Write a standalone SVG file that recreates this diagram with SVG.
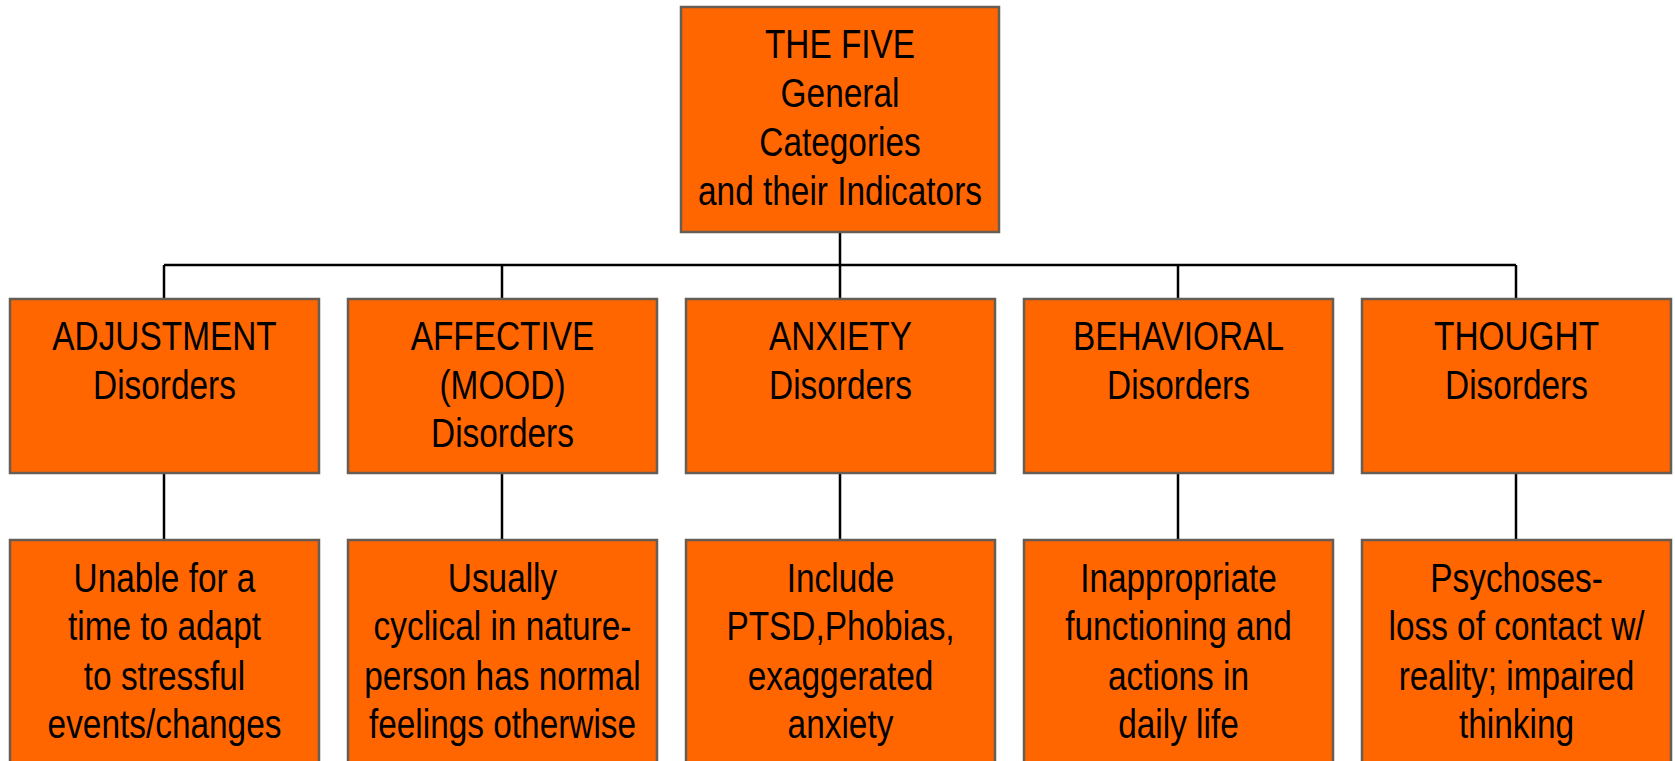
<svg xmlns="http://www.w3.org/2000/svg" width="1675" height="761" viewBox="0 0 1675 761">
<style>
.box{fill:#FF6600;stroke:#665E55;stroke-width:2.5}
.lbl{font-family:"Liberation Sans",Arial,sans-serif;font-size:40px;fill:#000;text-anchor:middle}
.con{stroke:#000;stroke-width:2.5;fill:none}
</style>
<rect width="1675" height="761" fill="#fff"/>
<g id="connectors">
<path class="con" d="M840 232V265M164 265H1516M164 265V299M502 265V299M840 265V299M1178 265V299M1516 265V299"/>
<path class="con" d="M164 473V540M502 473V540M840 473V540M1178 473V540M1516 473V540"/>
</g>
<g id="root">
<rect class="box" x="681" y="7" width="318" height="225"/>
<g transform="translate(840,0) scale(0.835,1)"><text class="lbl"><tspan x="0" y="58">THE FIVE</tspan><tspan x="0" y="107">General</tspan><tspan x="0" y="156">Categories</tspan><tspan x="0" y="205">and their Indicators</tspan></text></g>
</g>
<g id="adjustment">
<rect class="box" x="10" y="299" width="309" height="174"/>
<g transform="translate(164.5,0) scale(0.835,1)"><text class="lbl"><tspan x="0" y="350">ADJUSTMENT</tspan><tspan x="0" y="399">Disorders</tspan></text></g>
</g>
<g id="affective">
<rect class="box" x="348" y="299" width="309" height="174"/>
<g transform="translate(502.5,0) scale(0.835,1)"><text class="lbl"><tspan x="0" y="350">AFFECTIVE</tspan><tspan x="0" y="399">(MOOD)</tspan><tspan x="0" y="447">Disorders</tspan></text></g>
</g>
<g id="anxiety">
<rect class="box" x="686" y="299" width="309" height="174"/>
<g transform="translate(840.5,0) scale(0.835,1)"><text class="lbl"><tspan x="0" y="350">ANXIETY</tspan><tspan x="0" y="399">Disorders</tspan></text></g>
</g>
<g id="behavioral">
<rect class="box" x="1024" y="299" width="309" height="174"/>
<g transform="translate(1178.5,0) scale(0.835,1)"><text class="lbl"><tspan x="0" y="350">BEHAVIORAL</tspan><tspan x="0" y="399">Disorders</tspan></text></g>
</g>
<g id="thought">
<rect class="box" x="1362" y="299" width="309" height="174"/>
<g transform="translate(1516.5,0) scale(0.835,1)"><text class="lbl"><tspan x="0" y="350">THOUGHT</tspan><tspan x="0" y="399">Disorders</tspan></text></g>
</g>
<g id="adjustment-desc">
<rect class="box" x="10" y="540" width="309" height="240"/>
<g transform="translate(164.5,0) scale(0.835,1)"><text class="lbl"><tspan x="0" y="592">Unable for a</tspan><tspan x="0" y="640">time to adapt</tspan><tspan x="0" y="690">to stressful</tspan><tspan x="0" y="738">events/changes</tspan></text></g>
</g>
<g id="affective-desc">
<rect class="box" x="348" y="540" width="309" height="240"/>
<g transform="translate(502.5,0) scale(0.835,1)"><text class="lbl"><tspan x="0" y="592">Usually</tspan><tspan x="0" y="640">cyclical in nature-</tspan><tspan x="0" y="690">person has normal</tspan><tspan x="0" y="738">feelings otherwise</tspan></text></g>
</g>
<g id="anxiety-desc">
<rect class="box" x="686" y="540" width="309" height="240"/>
<g transform="translate(840.5,0) scale(0.835,1)"><text class="lbl"><tspan x="0" y="592">Include</tspan><tspan x="0" y="640">PTSD,Phobias,</tspan><tspan x="0" y="690">exaggerated</tspan><tspan x="0" y="738">anxiety</tspan></text></g>
</g>
<g id="behavioral-desc">
<rect class="box" x="1024" y="540" width="309" height="240"/>
<g transform="translate(1178.5,0) scale(0.835,1)"><text class="lbl"><tspan x="0" y="592">Inappropriate</tspan><tspan x="0" y="640">functioning and</tspan><tspan x="0" y="690">actions in</tspan><tspan x="0" y="738">daily life</tspan></text></g>
</g>
<g id="thought-desc">
<rect class="box" x="1362" y="540" width="309" height="240"/>
<g transform="translate(1516.5,0) scale(0.835,1)"><text class="lbl"><tspan x="0" y="592">Psychoses-</tspan><tspan x="0" y="640">loss of contact w/</tspan><tspan x="0" y="690">reality; impaired</tspan><tspan x="0" y="738">thinking</tspan></text></g>
</g>
</svg>
